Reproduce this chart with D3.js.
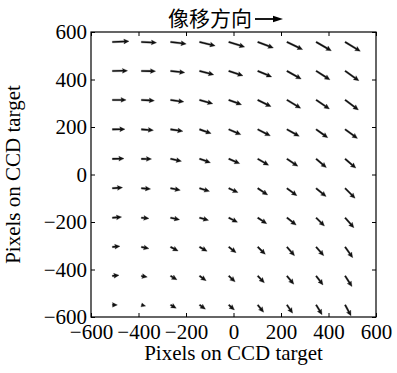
<!DOCTYPE html>
<html>
<head>
<meta charset="utf-8">
<script src="https://cdn.jsdelivr.net/npm/d3@7/dist/d3.min.js"></script>
<style>
  body { margin: 0; background: #fff; }
  text { font-family: "Liberation Serif", "DejaVu Serif", serif; }
</style>
</head>
<body>
<svg id="chart" width="397" height="373"></svg>
<script>
// grid of sample points on the CCD target (pixels)
const gridX = [-510, -388, -265, -143, -20, 102, 225, 348, 470];
const gridY = [558, 436, 314, 190, 66, -58, -182, -305, -427, -549];

// image displacement vectors, one row per gridY, drawn in axis units
const dispU = [
  [70, 64, 66, 66, 67, 66, 66, 64, 64],
  [64, 60, 60, 60, 60, 59, 60, 58, 58],
  [58, 55, 56, 56, 54, 56, 58, 56, 56],
  [53, 51, 52, 49, 51, 53, 52, 49, 52],
  [49, 43, 46, 46, 46, 46, 46, 43, 45],
  [43, 39, 41, 42, 39, 42, 42, 42, 42],
  [39, 32, 38, 38, 37, 38, 39, 35, 37],
  [32, 32, 32, 32, 31, 32, 32, 32, 32],
  [28, 25, 27, 28, 27, 28, 29, 29, 29],
  [21, 18, 24, 25, 24, 25, 24, 25, 25]
];
const dispV = [
  [3, -3, -8, -16, -21, -25, -32, -37, -39],
  [1, -1, -7, -16, -20, -25, -34, -37, -41],
  [0, -3, -8, -16, -20, -28, -35, -38, -42],
  [1, -4, -8, -17, -22, -27, -29, -35, -38],
  [1, -1, -10, -16, -20, -27, -31, -37, -39],
  [3, -3, -8, -13, -18, -28, -31, -35, -42],
  [3, -3, -8, -11, -19, -25, -31, -35, -42],
  [3, -7, -17, -18, -24, -31, -37, -37, -45],
  [3, -5, -16, -20, -25, -29, -35, -38, -45],
  [0, -5, -14, -18, -21, -31, -35, -41, -46]
];

const xTicks = [-600, -400, -200, 0, 200, 400, 600];
const yTicks = [-600, -400, -200, 0, 200, 400, 600];
const titleText = "像移方向";
const axisLabel = "Pixels on CCD target";

const svg = d3.select("#chart");
const margin = { left: 91, top: 32, right: 21, bottom: 56 };
const width = 397 - margin.left - margin.right;
const height = 373 - margin.top - margin.bottom;

const x = d3.scaleLinear().domain([-600, 600]).range([0, width]);
const y = d3.scaleLinear().domain([-600, 600]).range([height, 0]);

const g = svg.append("g")
  .attr("transform", `translate(${margin.left},${margin.top})`);

const fmt = (d) => (d < 0 ? "\u2212" + Math.abs(d) : String(d));

// axes: ticks point inward, labels only on left and bottom
const axisStyle = (sel) => {
  sel.select(".domain").remove();
  sel.selectAll(".tick line").attr("stroke", "#000").attr("stroke-width", 1);
  sel.selectAll(".tick text")
    .attr("fill", "#000")
    .style("font-family", "'Liberation Serif', serif")
    .style("font-size", "21px");
};

g.append("g")
  .attr("transform", `translate(0,${height})`)
  .call(d3.axisBottom(x).tickValues(xTicks).tickFormat(fmt).tickSizeInner(-4).tickPadding(7))
  .call(axisStyle);
g.append("g")
  .call(d3.axisTop(x).tickValues(xTicks).tickFormat("").tickSizeInner(-4))
  .call(axisStyle);
g.append("g")
  .call(d3.axisLeft(y).tickValues(yTicks).tickFormat(fmt).tickSizeInner(-4).tickPadding(4))
  .call(axisStyle);
g.append("g")
  .attr("transform", `translate(${width},0)`)
  .call(d3.axisRight(y).tickValues(yTicks).tickFormat("").tickSizeInner(-4))
  .call(axisStyle);

g.selectAll(".tick text").filter(function () { return this.textContent === ""; }).remove();

g.append("rect")
  .attr("width", width)
  .attr("height", height)
  .attr("fill", "none")
  .attr("stroke", "#000")
  .attr("stroke-width", 1.2);

// quiver arrows
const arrows = [];
gridY.forEach((yv, r) => {
  gridX.forEach((xv, c) => {
    arrows.push({ x: xv, y: yv, u: dispU[r][c], v: dispV[r][c] });
  });
});

const shaftW = 1.6, headW = 4.8, headL = 5.2, headAxisL = 4.6;
const line = d3.line();

function arrowPath(d) {
  const x0 = x(d.x), y0 = y(d.y);
  const dx = x(d.x + d.u) - x0;
  const dy = y(d.y + d.v) - y0;
  const len = Math.hypot(dx, dy);
  const k = len < headL ? len / headL : 1;
  const hl = headL * k, hal = headAxisL * k, hw = headW * k, sw = shaftW * Math.max(k, 0.7);
  const local = [
    [0, -sw / 2], [len - hal, -sw / 2], [len - hl, -hw / 2], [len, 0],
    [len - hl, hw / 2], [len - hal, sw / 2], [0, sw / 2]
  ];
  const a = Math.atan2(dy, dx), ca = Math.cos(a), sa = Math.sin(a);
  return line(local.map(([px, py]) => [x0 + px * ca - py * sa, y0 + px * sa + py * ca])) + "Z";
}

g.append("g")
  .selectAll("path")
  .data(arrows)
  .join("path")
  .attr("d", arrowPath)
  .attr("fill", "#111")
  .attr("stroke", "#111")
  .attr("stroke-width", 0.3);

// labels
svg.append("text")
  .attr("x", margin.left + width / 2)
  .attr("y", 360)
  .attr("text-anchor", "middle")
  .style("font-size", "21px")
  .text(axisLabel);

svg.append("text")
  .attr("transform", `translate(20,${margin.top + height / 2}) rotate(-90)`)
  .attr("text-anchor", "middle")
  .style("font-size", "21px")
  .text(axisLabel);

const title = svg.append("text")
  .attr("x", 168)
  .attr("y", 26)
  .style("font-family", "'Noto Sans CJK SC', sans-serif")
  .style("font-size", "21px")
  .text(titleText);

const tw = title.node().getComputedTextLength();
const ax0 = 168 + tw + 3;
svg.append("line")
  .attr("x1", ax0).attr("x2", ax0 + 20)
  .attr("y1", 19).attr("y2", 19)
  .attr("stroke", "#000").attr("stroke-width", 1.8);
svg.append("path")
  .attr("d", line([[ax0 + 18, 15.8], [ax0 + 28, 19], [ax0 + 18, 22.2]]) + "Z")
  .attr("fill", "#000");
</script>
</body>
</html>
